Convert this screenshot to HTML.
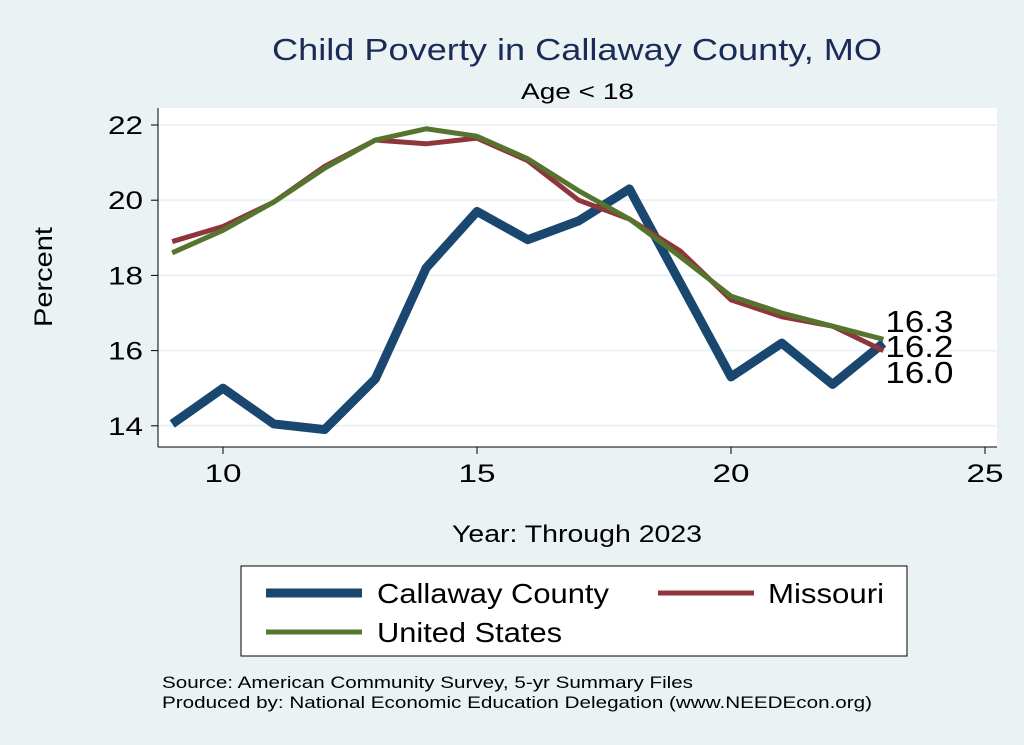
<!DOCTYPE html>
<html><head><meta charset="utf-8"><style>
body{margin:0;background:#eaf2f3;font-family:"Liberation Sans",sans-serif}
svg{display:block}
</style></head><body>
<svg width="1024" height="745" xmlns="http://www.w3.org/2000/svg">
<rect x="0" y="0" width="1024" height="745" fill="#eaf2f3"/>
<rect x="158" y="108" width="839" height="339" fill="#fff"/>
<text x="272" y="60" font-size="31" fill="#1a2b57" textLength="610" lengthAdjust="spacingAndGlyphs">Child Poverty in Callaway County, MO</text>
<text x="521" y="99" font-size="22" textLength="113" lengthAdjust="spacingAndGlyphs">Age &lt; 18</text>
<g id="grid"></g><g id="axes"></g><g id="lines"></g><g id="labels"></g>
<text x="52" y="277" font-size="25" text-anchor="middle" textLength="100" lengthAdjust="spacingAndGlyphs" transform="rotate(-90 52 277)">Percent</text>
<text x="452" y="542" font-size="24" textLength="250" lengthAdjust="spacingAndGlyphs">Year: Through 2023</text>
<g>
<rect x="241" y="566" width="666" height="90" fill="#fff" stroke="#000" stroke-width="1"/>
<line x1="266" y1="593" x2="362" y2="593" stroke="#1a476f" stroke-width="9"/>
<text x="377" y="603" font-size="28" textLength="232" lengthAdjust="spacingAndGlyphs">Callaway County</text>
<line x1="658" y1="593" x2="754" y2="593" stroke="#90353b" stroke-width="5"/>
<text x="768" y="603" font-size="28" textLength="116" lengthAdjust="spacingAndGlyphs">Missouri</text>
<line x1="266" y1="632" x2="362" y2="632" stroke="#55752f" stroke-width="5"/>
<text x="377" y="642" font-size="28" textLength="185" lengthAdjust="spacingAndGlyphs">United States</text>
</g>
<text x="162" y="688" font-size="17" textLength="531" lengthAdjust="spacingAndGlyphs">Source: American Community Survey, 5-yr Summary Files</text>
<text x="162" y="708" font-size="17" textLength="710" lengthAdjust="spacingAndGlyphs">Produced by: National Economic Education Delegation (www.NEEDEcon.org)</text>
</svg>
<script>
const years=[9,10,11,12,13,14,15,16,17,18,19,20,21,22,23];
const callaway=[14.05,15.0,14.05,13.9,15.25,18.2,19.7,18.95,19.45,20.3,17.8,15.3,16.2,15.1,16.2];
const missouri=[18.9,19.3,19.95,20.9,21.6,21.5,21.65,21.05,20.0,19.5,18.65,17.35,16.9,16.65,16.0];
const unitedStates=[18.6,19.2,19.95,20.85,21.6,21.9,21.7,21.1,20.25,19.5,18.5,17.45,17.0,16.65,16.3];
const xTicks=[10,15,20,25];
const yTicks=[14,16,18,20,22];
const endLabels=["16.3","16.2","16.0"];
const NS="http://www.w3.org/2000/svg";
const X=v=>223+(v-10)*50.8;
const Y=v=>125+(22-v)*37.6;
function mk(t,a,p){const e=document.createElementNS(NS,t);for(const k in a)e.setAttribute(k,a[k]);document.getElementById(p).appendChild(e);return e;}
yTicks.forEach(t=>{
 const g=mk('line',{x1:158,x2:997,y1:Y(t),y2:Y(t),stroke:'#eaf2f3','stroke-width':2},'grid');
 
 
 const k=mk('line',{x1:151,x2:158,y1:Y(t),y2:Y(t),stroke:'#000'},'axes');
 
 
 const l=mk('text',{x:143,y:Y(t)+9,'font-size':25,'text-anchor':'end',textLength:35,lengthAdjust:'spacingAndGlyphs'},'axes');l.textContent=t;
 
 
});
xTicks.forEach(t=>{
 const k=mk('line',{x1:X(t),x2:X(t),y1:447,y2:454,stroke:'#000'},'axes');
 
 
 const l=mk('text',{x:X(t),y:482,'font-size':25,'text-anchor':'middle',textLength:37,lengthAdjust:'spacingAndGlyphs'},'axes');l.textContent=t;
 
 
});
const ax1=mk('line',{x1:158,x2:158,y1:108,y2:447,stroke:'#000'},'axes');


const ax2=mk('line',{x1:158,x2:997,y1:447,y2:447,stroke:'#000'},'axes');


function line(vals,color,w,name){
 const p=mk('polyline',{points:vals.map((v,i)=>X(years[i])+','+Y(v)).join(' '),fill:'none',stroke:color,'stroke-width':w,'stroke-linejoin':'round'},'lines');
 
 
}
line(callaway,'#1a476f',9,'line-callaway');
line(missouri,'#90353b',5,'line-missouri');
line(unitedStates,'#55752f',5,'line-us');
const lx=X(years[years.length-1])+2;
[332,357,383].forEach((b,i)=>{
 const t=mk('text',{x:lx,y:b,'font-size':31,textLength:68,lengthAdjust:'spacingAndGlyphs'},'labels');t.textContent=endLabels[i];
 
 
});
</script>
</body></html>
